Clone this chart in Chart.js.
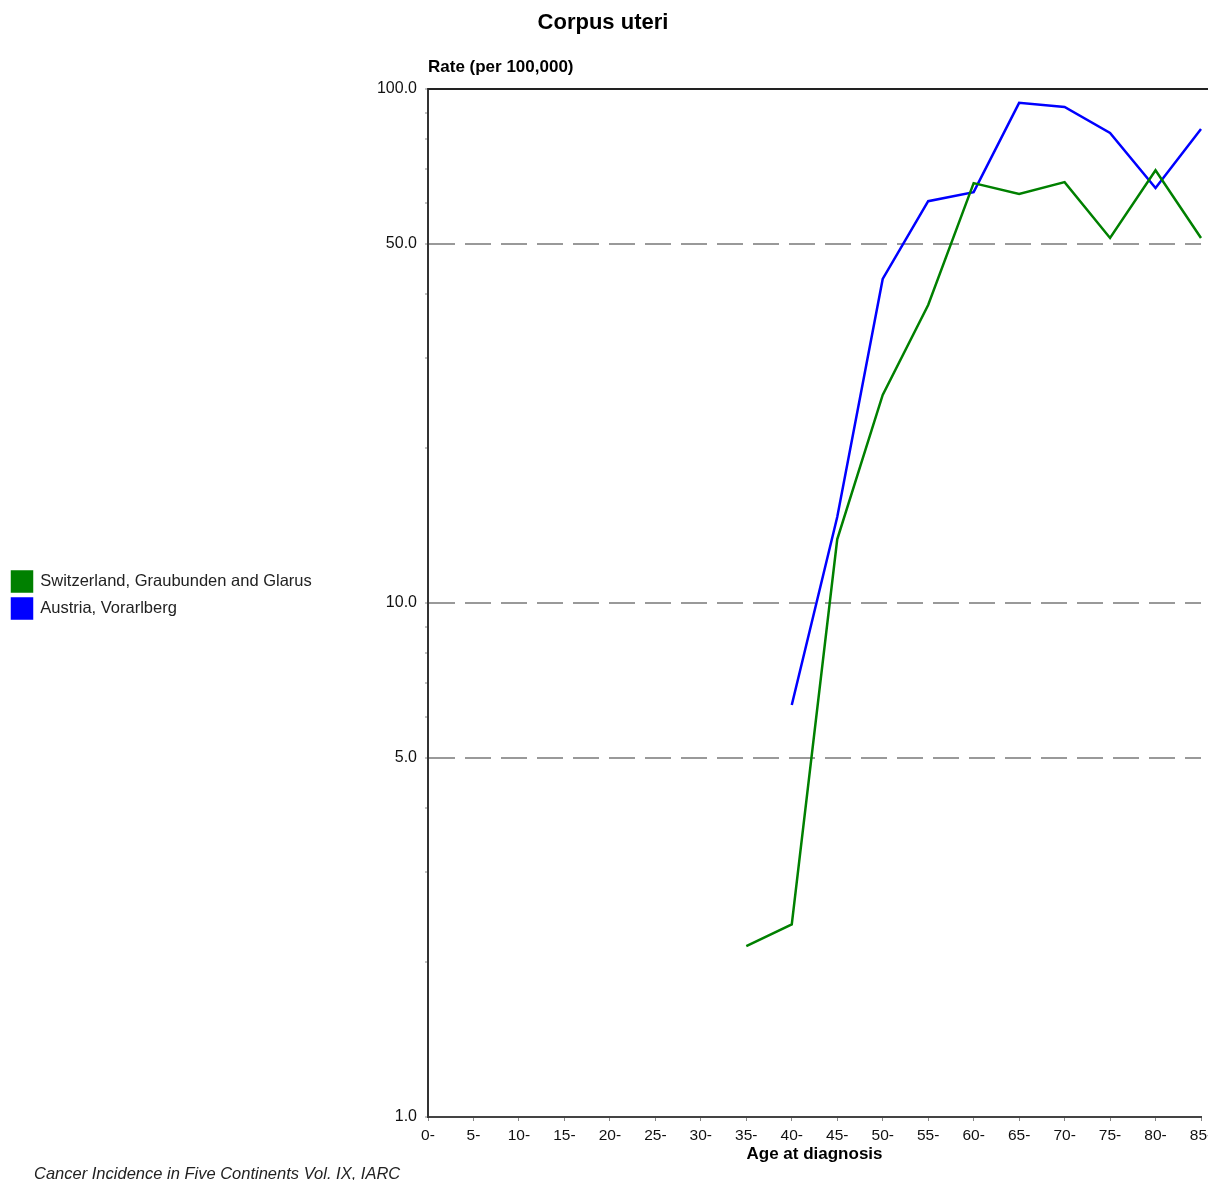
<!DOCTYPE html>
<html>
<head>
<meta charset="utf-8">
<title>Corpus uteri</title>
<script src="https://cdn.jsdelivr.net/npm/chart.js@4/dist/chart.umd.min.js"></script>
<style>
html, body { margin: 0; padding: 0; background: #fff; overflow: hidden; }
#wrap { width: 1208px; height: 1180px; overflow: hidden; }
</style>
</head>
<body>
<div id="wrap"><canvas id="chart" width="1260" height="1180"></canvas></div>
<script>
// age groups (x axis)
const ageGroups = ['0-', '5-', '10-', '15-', '20-', '25-', '30-', '35-', '40-',
	'45-', '50-', '55-', '60-', '65-', '70-', '75-', '80-', '85-'];

// rates per 100,000
const switzerland = [null, null, null, null, null, null, null, 2.15, 2.37,
	13.3, 25.4, 38.0, 65.6, 62.5, 65.9, 51.3, 69.5, 51.3];
const austria = [null, null, null, null, null, null, null, null, 6.33,
	14.7, 42.7, 60.5, 63.0, 94.0, 92.3, 82.1, 64.2, 83.6];

// y axis ticks
const yTickValues = [1, 2, 3, 4, 5, 6, 7, 8, 9, 10, 20, 30, 40, 50, 60, 70, 80, 90, 100];
const yLabelValues = [1, 5, 10, 50, 100];
const yGridValues = [5, 10, 50];

Chart.defaults.font.family = '"Liberation Sans", Arial, sans-serif';
Chart.defaults.color = '#000';

// horizontal y title, footer note and top frame line
const extraText = {
	id: 'extraText',
	afterDraw(chart) {
		const ctx = chart.ctx;
		const area = chart.chartArea;
		ctx.save();
		ctx.strokeStyle = '#222';
		ctx.lineWidth = 2;
		ctx.beginPath();
		ctx.moveTo(area.left, area.top);
		ctx.lineTo(chart.width, area.top);
		ctx.stroke();

		ctx.fillStyle = '#000';
		ctx.textBaseline = 'middle';
		ctx.textAlign = 'left';
		ctx.font = 'bold 17px "Liberation Sans", Arial, sans-serif';
		ctx.fillText('Rate (per 100,000)', area.left, area.top - 22);

		ctx.font = 'italic 16.5px "Liberation Sans", Arial, sans-serif';
		ctx.fillStyle = '#222';
		ctx.fillText('Cancer Incidence in Five Continents Vol. IX, IARC', 34, chart.height - 6);
		ctx.restore();
	}
};

const ctx = document.getElementById('chart').getContext('2d');
let myChart = new Chart(ctx, {
	type: 'line',
	data: {
		labels: ageGroups,
		datasets: [{
			label: 'Switzerland, Graubunden and Glarus',
			data: switzerland,
			borderColor: '#008000',
			backgroundColor: '#008000',
			borderWidth: 2.5,
			pointRadius: 0,
			tension: 0,
			spanGaps: false
		}, {
			label: 'Austria, Vorarlberg',
			data: austria,
			borderColor: '#0000ff',
			backgroundColor: '#0000ff',
			borderWidth: 2.5,
			pointRadius: 0,
			tension: 0,
			spanGaps: false
		}]
	},
	plugins: [extraText],
	options: {
		responsive: false,
		animation: false,
		devicePixelRatio: 1,
		layout: {
			padding: { left: 5, right: 59, top: 10, bottom: 0 }
		},
		plugins: {
			title: {
				display: true,
				text: 'Corpus uteri',
				font: { size: 22, weight: 'bold' },
				padding: { top: 0, bottom: 52.6 }
			},
			legend: {
				position: 'left',
				maxWidth: 420,
				labels: {
					boxWidth: 20,
					boxHeight: 20,
					padding: 7,
					font: { size: 16.5 },
					color: '#222'
				}
			},
			tooltip: { enabled: false }
		},
		scales: {
			x: {
				type: 'category',
				offset: false,
				grid: {
					drawOnChartArea: false,
					drawTicks: true,
					tickLength: 4,
					tickColor: '#888'
				},
				border: { display: true, color: '#444', width: 2 },
				ticks: {
					autoSkip: false,
					maxRotation: 0,
					padding: 5,
					font: { size: 15.5 },
					color: '#111'
				},
				title: {
					display: true,
					text: 'Age at diagnosis',
					font: { size: 17, weight: 'bold' },
					padding: { top: 0, bottom: 15 }
				},
				afterFit(scale) {
					scale.height = 63;
				}
			},
			y: {
				type: 'logarithmic',
				min: 1,
				max: 100,
				afterBuildTicks(scale) {
					scale.ticks = yTickValues.map(v => ({ value: v, major: yLabelValues.includes(v) }));
				},
				afterFit(scale) {
					const legendWidth = scale.chart.legend ? scale.chart.legend.width : 0;
					scale.width = 428 - 5 - legendWidth;
				},
				ticks: {
					autoSkip: false,
					padding: 8,
					font: { size: 16 },
					color: '#111',
					callback: function (value) {
						return yLabelValues.includes(value) ? value.toFixed(1) : '';
					}
				},
				grid: {
					drawTicks: true,
					tickLength: 3,
					lineWidth: 2,
					color: function (c) {
						return c.tick && yGridValues.includes(c.tick.value) ? '#999' : 'rgba(0,0,0,0)';
					},
					tickColor: '#888',
					tickWidth: 1
				},
				border: { display: true, color: '#333', width: 2, dash: [26, 10] }
			}
		}
	}
});
</script>
</body>
</html>
